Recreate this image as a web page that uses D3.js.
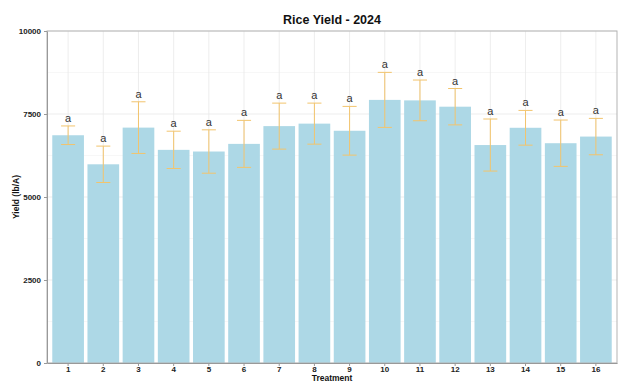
<!DOCTYPE html>
<html><head><meta charset="utf-8">
<script src="https://cdn.jsdelivr.net/npm/d3@7"></script>
<style>body{margin:0;background:#fff}svg{display:block}text{font-family:"Liberation Sans",Arial,sans-serif}</style>
</head><body>
<svg id="c" width="640" height="384"></svg>
<script>
const treatments = ["1","2","3","4","5","6","7","8","9","10","11","12","13","14","15","16"];
const yieldMean = [6860,5985,7090,6420,6370,6600,7135,7210,6995,7925,7910,7720,6565,7085,6620,6820];
const yieldErr  = [280,548,778,562,653,708,693,618,734,829,613,548,784,523,698,548];
const groupLetters = ["a","a","a","a","a","a","a","a","a","a","a","a","a","a","a","a"];
const yTicks = [0,2500,5000,7500,10000];
const yMinor = [1250,3750,6250,8750];

const svg = d3.select("#c");
const L=47,R=617,T=31,B=363;
const x = d3.scaleBand().domain(treatments).range([L,R]).paddingInner(0.1).paddingOuter(0.15);
const y = d3.scaleLinear().domain([0,10000]).range([B,T]);
const step = x.step();

// grid
const g = svg.append("g");
g.selectAll(".mn").data(yMinor).join("line").attr("x1",L).attr("x2",R).attr("y1",d=>y(d)).attr("y2",d=>y(d)).attr("stroke","#f2f2f2").attr("stroke-width",0.6);
g.selectAll(".mj").data(yTicks).join("line").attr("x1",L).attr("x2",R).attr("y1",d=>y(d)).attr("y2",d=>y(d)).attr("stroke","#e8e8e8").attr("stroke-width",0.8);
g.selectAll(".vx").data(treatments).join("line").attr("x1",d=>x(d)+x.bandwidth()/2).attr("x2",d=>x(d)+x.bandwidth()/2).attr("y1",T).attr("y2",B).attr("stroke","#e8e8e8").attr("stroke-width",0.8);

// bars
svg.selectAll(".bar").data(treatments).join("rect")
  .attr("x",d=>x(d)).attr("width",x.bandwidth())
  .attr("y",(d,i)=>y(yieldMean[i])).attr("height",(d,i)=>B-y(yieldMean[i]))
  .attr("fill","#add8e6");

// error bars
const eb = svg.append("g").attr("stroke","#f2c46d").attr("stroke-width",1);
const hw = step*0.2;
treatments.forEach((t,i)=>{
  const cx = x(t)+x.bandwidth()/2;
  const lo=y(yieldMean[i]-yieldErr[i]), hi=y(yieldMean[i]+yieldErr[i]);
  eb.append("line").attr("x1",cx).attr("x2",cx).attr("y1",lo).attr("y2",hi);
  eb.append("line").attr("x1",cx-hw).attr("x2",cx+hw).attr("y1",lo).attr("y2",lo);
  eb.append("line").attr("x1",cx-hw).attr("x2",cx+hw).attr("y1",hi).attr("y2",hi);
});

// letters
svg.selectAll(".lt").data(treatments).join("text")
  .attr("x",d=>x(d)+x.bandwidth()/2)
  .attr("y",(d,i)=>y(yieldMean[i]+yieldErr[i])-4)
  .attr("text-anchor","middle").attr("font-size",11).attr("fill","#333")
  .text((d,i)=>groupLetters[i]);

// panel border
svg.append("rect").attr("x",L).attr("y",T).attr("width",R-L).attr("height",B-T).attr("fill","none").attr("stroke","#b3b3b3").attr("stroke-width",1);

// axes
const xa = svg.append("g").attr("transform",`translate(0,${B})`).call(d3.axisBottom(x).tickSize(3).tickSizeOuter(0));
const ya = svg.append("g").attr("transform",`translate(${L},0)`).call(d3.axisLeft(y).tickValues(yTicks).tickSize(3).tickSizeOuter(0).tickFormat(d3.format("d")));
[xa,ya].forEach(a=>{
  a.select(".domain").attr("stroke","#999");
  a.selectAll(".tick line").attr("stroke","#999");
  a.selectAll("text").attr("font-size",8).attr("font-weight","bold").attr("fill","#222").attr("font-family","'Liberation Sans',Arial,sans-serif");
});
xa.selectAll("text").attr("y",3.5).attr("dy","0.71em");

svg.append("text").attr("x",(L+R)/2).attr("y",24).attr("text-anchor","middle").attr("font-size",12.5).attr("font-weight","bold").attr("fill","#111").text("Rice Yield - 2024");
svg.append("text").attr("x",(L+R)/2).attr("y",381).attr("text-anchor","middle").attr("font-size",8.5).attr("font-weight","bold").attr("fill","#111").text("Treatment");
svg.append("text").attr("transform",`translate(19,${(T+B)/2}) rotate(-90)`).attr("text-anchor","middle").attr("font-size",8.5).attr("font-weight","bold").attr("fill","#111").text("Yield (lb/A)");
</script>
</body></html>
